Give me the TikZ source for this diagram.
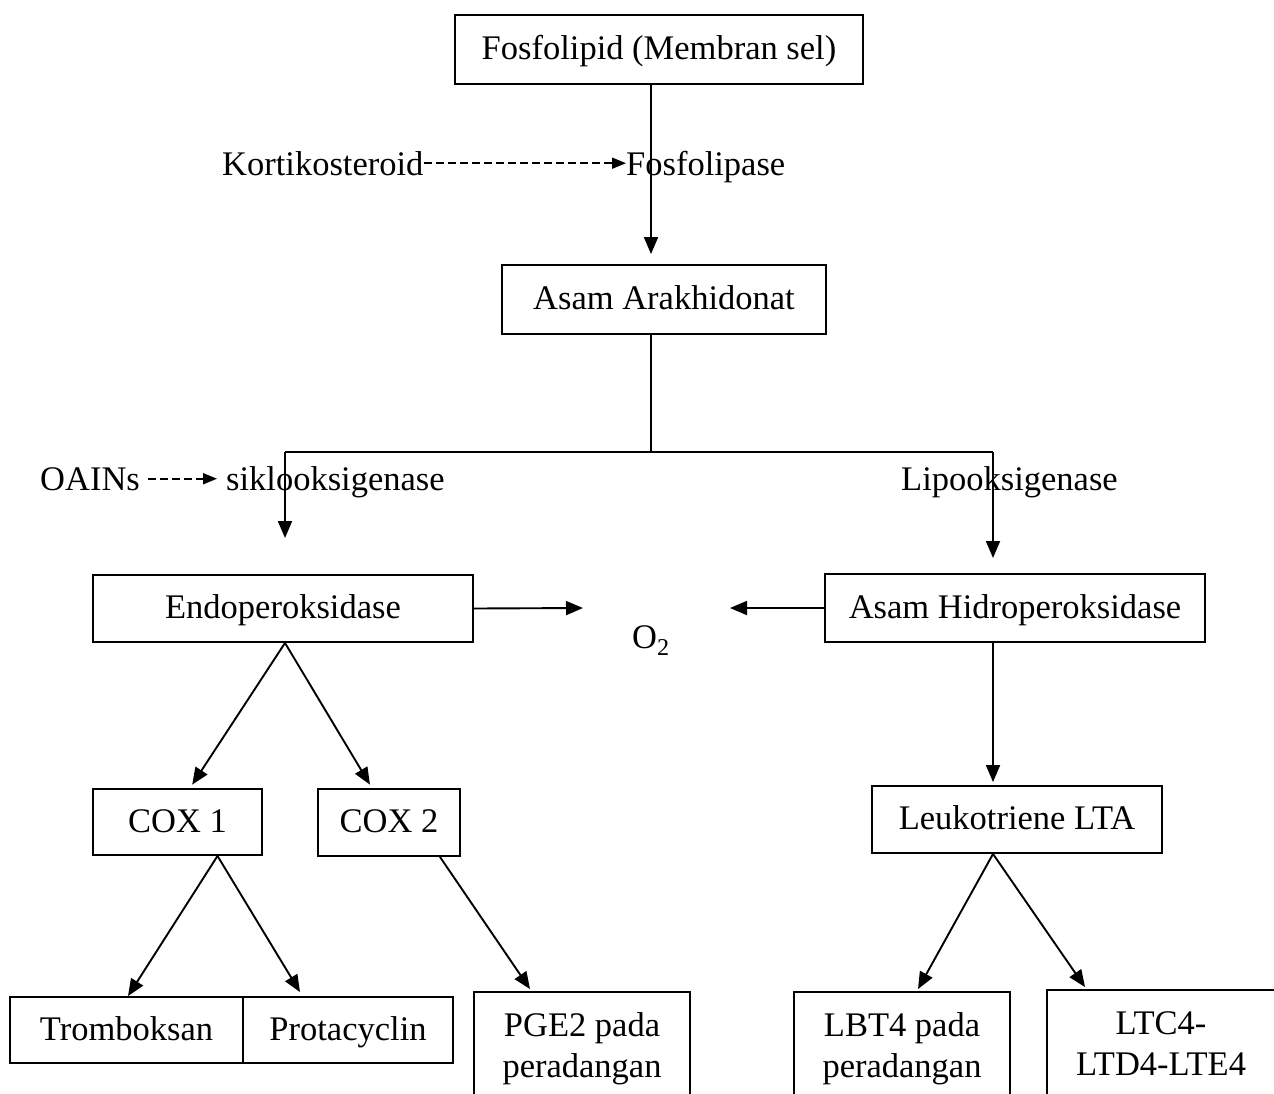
\documentclass[tikz,border=0pt]{standalone}
\usepackage{fontspec}
\setmainfont{Liberation Serif}
\usetikzlibrary{arrows.meta}
\begin{document}
\begin{tikzpicture}[x=1pt,y=-1pt,
 box/.style={draw, line width=1.9pt, inner sep=0pt, align=center, text height=26pt, text depth=6pt},
 lbl/.style={inner sep=0pt, anchor=base west},
 txt/.style={inner sep=0pt, align=center},
 arr/.style={line width=1.9pt, -{Triangle[length=17pt,width=14pt]}},
 ln/.style={line width=1.9pt},
 dsh/.style={line width=1.7pt, dash pattern=on 8pt off 4pt, -{Triangle[length=14pt,width=11pt]}},
 font=\fontsize{34.5}{41}\selectfont]
\clip (0,0) rectangle (1274,1093);
% top
\node[box, minimum width=408pt, minimum height=69pt] (fos) at (659,49.5) {Fosfolipid (Membran sel)};
\node[lbl] (kort) at (222,175) {Kortikosteroid};
\node[lbl] (fosl) at (626,175) {Fosfolipase};
\node[box, minimum width=324pt, minimum height=69pt] (ara) at (664,299.5) {Asam Arakhidonat};
\draw[dsh] (kort.east) -- (kort.east -| fosl.west);
\draw[arr] ([xshift=-8pt]fos.south) -- ([xshift=-13pt,yshift=10pt]ara.north);
% branching
\coordinate (jc) at (651,452);
\coordinate (jl) at (285,452);
\coordinate (jr) at (993,452);
\coordinate (tl) at (285,538);
\coordinate (tr) at (993,558);
\draw[ln] ([xshift=-13pt]ara.south) -- (jc);
\draw[ln] (jl) -- (jr);
\draw[arr] (jl) -- (tl);
\draw[arr] (jr) -- (tr);
\node[lbl] (oain) at (40,490) {OAINs};
\node[lbl] (sikl) at (226,490) {siklooksigenase};
\draw[dsh, shorten >=9pt] ([xshift=8pt]oain.east) -- (oain.east -| sikl.west);
\node[lbl] (lipo) at (901,490) {Lipooksigenase};
% middle row
\node[box, minimum width=380pt, minimum height=67pt] (endo) at (283,608.5) {Endoperoksidase};
\node[box, minimum width=380pt, minimum height=68pt] (ahp) at (1015,608) {Asam Hidroperoksidase};
\node[lbl] (o2) at (632,648) {O\textsubscript{2}};
\coordinate (oL) at (583,608);
\coordinate (oR) at (730,608);
\draw[arr] (endo.east) -- (oL);
\draw[arr] (ahp.west) -- (oR);
% cox row
\node[box, minimum width=169pt, minimum height=66pt] (cox1) at (177.5,822) {COX 1};
\node[box, minimum width=142pt, minimum height=67pt] (cox2) at (389,822.5) {COX 2};
\node[box, minimum width=290pt, minimum height=67pt] (leuk) at (1017,819.5) {Leukotriene LTA};
\draw[arr, shorten >=4pt] ([xshift=2pt]endo.south) -- ([xshift=12.5pt]cox1.north);
\draw[arr, shorten >=4pt] ([xshift=2pt]endo.south) -- ([xshift=-17pt]cox2.north);
\draw[arr, shorten >=3pt] ([xshift=-22pt]ahp.south) -- ([xshift=-24pt]leuk.north);
% bottom row
\node[box, minimum width=233pt, minimum height=66pt] (trom) at (126.5,1030) {Tromboksan};
\node[box, minimum width=210pt, minimum height=66pt] (prot) at (348,1030) {Protacyclin};
\node[box, minimum width=216pt, minimum height=150pt] (pge) at (582,1067) {};
\node[txt] (pget) at (582,1049) {PGE2 pada\\peradangan};
\node[box, minimum width=216pt, minimum height=150pt] (lbt) at (902,1067) {};
\node[txt] (lbtt) at (902,1049) {LBT4 pada\\peradangan};
\node[box, minimum width=229pt, minimum height=150pt] (ltc) at (1161.5,1065) {};
\node[txt] (ltct) at (1161,1044) {LTC4-\\LTD4-LTE4};
\draw[arr] ([xshift=40pt]cox1.south) -- ([xshift=1.5pt]trom.north);
\draw[arr] ([xshift=40pt]cox1.south) -- ([xshift=-48pt,yshift=4pt]prot.north);
\draw[arr] ([xshift=51pt]cox2.south) -- ([xshift=-52pt,yshift=2pt]pge.north);
\draw[arr] ([xshift=-24pt]leuk.south) -- ([xshift=16pt,yshift=2pt]lbt.north);
\draw[arr] ([xshift=-24pt]leuk.south) -- ([xshift=-76.5pt,yshift=2pt]ltc.north);
\end{tikzpicture}
\end{document}
